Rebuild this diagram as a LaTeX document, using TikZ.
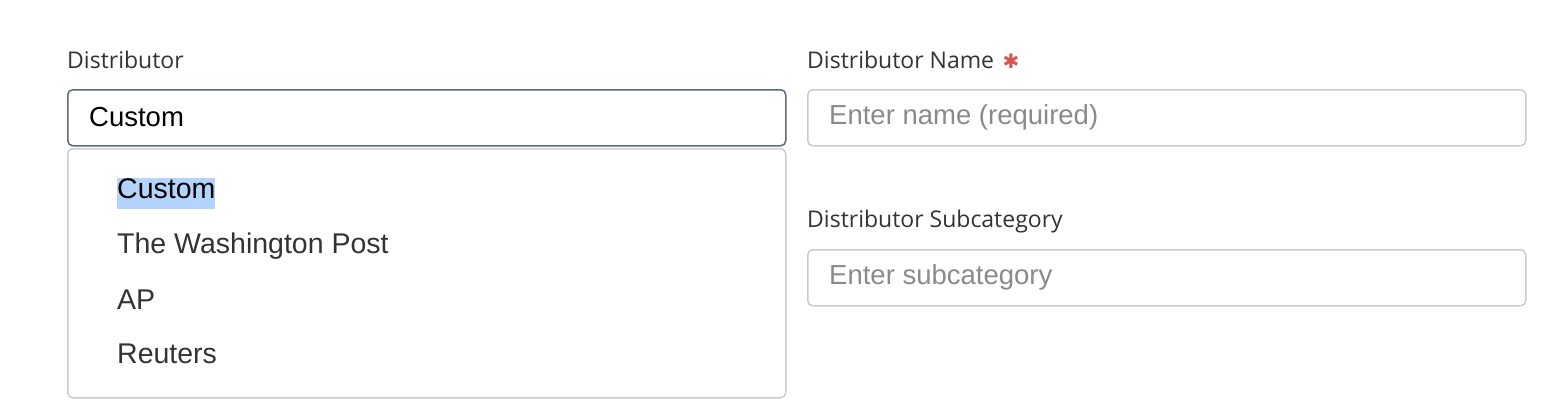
\documentclass[tikz,border=0pt]{standalone}
\usepackage{fontspec}
\setmainfont{Liberation Sans}
\newfontfamily\labelfont{Open Sans}
\newfontfamily\symfont{DejaVu Sans}
\usetikzlibrary{positioning}
\definecolor{labelgray}{HTML}{333333}
\definecolor{boxline}{HTML}{CCCCCC}
\definecolor{focusline}{HTML}{5C6B7A}
\definecolor{holdergray}{HTML}{8A8A8A}
\definecolor{pickblue}{HTML}{B3D4FC}
\definecolor{starred}{HTML}{D9534F}
\tikzstyle{fieldlabel} = [anchor=base west, inner sep=0pt, text=labelgray, font=\labelfont\fontsize{23}{26}\selectfont]
\tikzstyle{inputbox} = [rectangle, rounded corners=5pt, minimum width=718pt, minimum height=56pt, anchor=north west, draw=boxline, line width=1.5pt]
\tikzstyle{boxtext} = [anchor=west, inner sep=0pt, font=\fontsize{27.5}{32}\selectfont]
\tikzstyle{option} = [anchor=west, inner sep=0pt, text=labelgray, font=\fontsize{28.5}{32}\selectfont]

\begin{document}
\begin{tikzpicture}[x=1pt, y=-1pt]
        \useasboundingbox (0,0) rectangle (1550,408);
        \node (distLabel) [fieldlabel] at (67,68) {Distributor};
        \node (distBox) [inputbox, draw=focusline] at (67,89) {};
        \node (distText) [boxtext, text=black] at (89,117) {Custom};

        \node (menu) [inputbox, minimum height=249pt] at (67,148) {};
        \node (optCustom) [option, fill=pickblue, text=black, text height=21pt, text depth=10pt] at (117,193) {Custom};
        \node (optPost) [option] at (117,246) {The Washington Post};
        \node (optAP) [option] at (117,300) {AP};
        \node (optReuters) [option] at (117,354) {Reuters};

        \node (nameLabel) [fieldlabel] at (807,68) {Distributor Name};
        \node (nameStar) [right=8pt of nameLabel.base east, anchor=base west, inner sep=0pt, text=starred, font=\symfont\fontsize{20}{22}\selectfont] {✱};
        \node (nameBox) [inputbox] at (807,89) {};
        \node (nameText) [boxtext, text=holdergray] at (829,117) {Enter name (required)};

        \node (subLabel) [fieldlabel] at (807,227) {Distributor Subcategory};
        \node (subBox) [inputbox] at (807,249) {};
        \node (subText) [boxtext, text=holdergray] at (829,277) {Enter subcategory};

    \end{tikzpicture}
\end{document}
